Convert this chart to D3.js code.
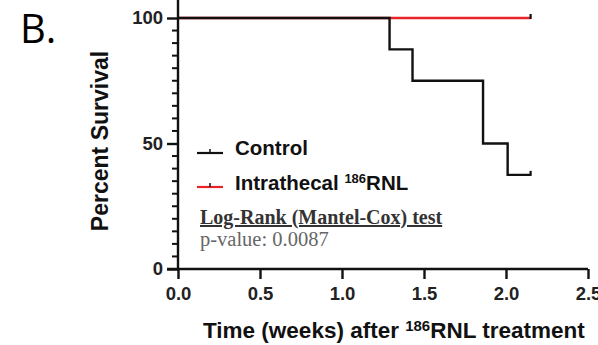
<!DOCTYPE html>
<html>
<head>
<meta charset="utf-8">
<script src="https://cdn.jsdelivr.net/npm/d3@7"></script>
<style>
  body { margin: 0; background: #fff; }
  svg { display: block; }
</style>
</head>
<body>
<div id="chart"></div>
<script>
// survival data (time in weeks, percent surviving)
var controlTimes = [0, 1.29, 1.43, 1.86, 2.01, 2.15];
var controlSurvival = [100, 87.5, 75, 50, 37.5, 37.5];
var rnlTimes = [0, 2.15];
var rnlSurvival = [100, 100];
var xTicks = [0, 0.5, 1, 1.5, 2, 2.5];
var yTicks = [0, 50, 100];
var yMinorTicks = d3.range(0, 101, 5);

var W = 598, H = 345;
var svg = d3.select('#chart').append('svg').attr('width', W).attr('height', H);

var x = d3.scaleLinear().domain([0, 2.5]).range([178, 588]);
var y = d3.scaleLinear().domain([0, 100]).range([269, 18]);

var sans = 'Liberation Sans, Arial, sans-serif';
var serif = 'Liberation Serif, Times New Roman, serif';

var toPts = function (ts, vs) { return ts.map(function (t, i) { return [t, vs[i]]; }); };
var line = d3.line().x(function (d) { return x(d[0]); }).y(function (d) { return y(d[1]); }).curve(d3.curveStepAfter);

// panel letter
svg.append('text').attr('x', 20).attr('y', 43)
    .attr('font-family', 'Open Sans, Liberation Sans, sans-serif')
    .attr('font-size', 40).attr('fill', '#000').text('B.');

// curves: red first, black on top
var series = [
    { pts: toPts(rnlTimes, rnlSurvival), clr: '#e8242a' },
    { pts: toPts(controlTimes, controlSurvival), clr: '#111' }
];
series.forEach(function (s) {
    svg.append('path').attr('d', line(s.pts))
        .attr('fill', 'none').attr('stroke', s.clr).attr('stroke-width', 2.4);
    var last = s.pts[s.pts.length - 1];
    svg.append('line')
        .attr('x1', x(last[0])).attr('x2', x(last[0]))
        .attr('y1', y(last[1]) + 1).attr('y2', y(last[1]) - 4)
        .attr('stroke', '#111').attr('stroke-width', 2.2);
});

// y axis
var yAxis = svg.append('g').attr('transform', 'translate(' + x(0) + ',0)');
yAxis.call(d3.axisLeft(y).tickValues(yTicks).tickSize(11).tickPadding(4).tickFormat(d3.format('d')));
yAxis.select('.domain').attr('d', 'M0,0V' + y(0));
yAxis.selectAll('.minor').data(yMinorTicks.filter(function (v) { return v % 50; }))
    .enter().append('line').attr('class', 'minor')
    .attr('x1', -6).attr('x2', 0)
    .attr('y1', function (d) { return y(d); }).attr('y2', function (d) { return y(d); })
    .attr('stroke', '#111').attr('stroke-width', 2);

// x axis
var xAxis = svg.append('g').attr('transform', 'translate(0,' + y(0) + ')');
xAxis.call(d3.axisBottom(x).tickValues(xTicks).tickSize(10).tickPadding(8).tickFormat(d3.format('.1f')));
xAxis.select('.domain').attr('d', 'M' + (x(0) - 11) + ',0H' + x(2.5));

[yAxis, xAxis].forEach(function (a) {
    a.selectAll('.domain').attr('stroke', '#111').attr('stroke-width', 2.4);
    a.selectAll('.tick line').attr('stroke', '#111').attr('stroke-width', 2.4);
    a.selectAll('.tick text').attr('font-family', sans)
        .attr('font-weight', 'bold').attr('font-size', 18.5).attr('fill', '#222');
});

// axis titles
svg.append('text')
    .attr('transform', 'translate(108,141) rotate(-90)')
    .attr('text-anchor', 'middle')
    .attr('font-family', sans)
    .attr('font-weight', 'bold').attr('font-size', 23).attr('fill', '#111')
    .text('Percent Survival');

var xt = svg.append('text').attr('x', 203).attr('y', 338)
    .attr('font-family', sans)
    .attr('font-weight', 'bold').attr('font-size', 22.5).attr('fill', '#111');
xt.append('tspan').text('Time (weeks) after ');
xt.append('tspan').attr('font-size', 15).attr('dy', -7).text('186');
xt.append('tspan').attr('dy', 7).text('RNL treatment');

// legend
var legend = [
    { label: 'Control', clr: '#111', yy: 153, base: 155 },
    { label: 'Intrathecal ', sup: '186', tail: 'RNL', clr: '#e8242a', yy: 187, base: 190 }
];
legend.forEach(function (l) {
    svg.append('line').attr('x1', 197).attr('x2', 223).attr('y1', l.yy).attr('y2', l.yy)
        .attr('stroke', l.clr).attr('stroke-width', 2.2);
    svg.append('line').attr('x1', 210).attr('x2', 210).attr('y1', l.yy).attr('y2', l.yy - 4)
        .attr('stroke', '#111').attr('stroke-width', 1.5);
    var t = svg.append('text').attr('x', 235).attr('y', l.base)
        .attr('font-family', sans)
        .attr('font-weight', 'bold').attr('font-size', 20.5).attr('fill', '#111');
    t.append('tspan').text(l.label);
    if (l.sup) {
        t.append('tspan').attr('font-size', 13).attr('dy', -7).text(l.sup);
        t.append('tspan').attr('dy', 7).text(l.tail);
    }
});

// test annotation
svg.append('text').attr('x', 200).attr('y', 224)
    .attr('font-family', serif)
    .attr('font-weight', 'bold').attr('font-size', 20).attr('fill', '#333')
    .attr('text-decoration', 'underline')
    .text('Log-Rank (Mantel-Cox) test');
svg.append('text').attr('x', 200).attr('y', 246)
    .attr('font-family', serif)
    .attr('font-size', 20.5).attr('fill', '#666')
    .text('p-value: 0.0087');
</script>
</body>
</html>
